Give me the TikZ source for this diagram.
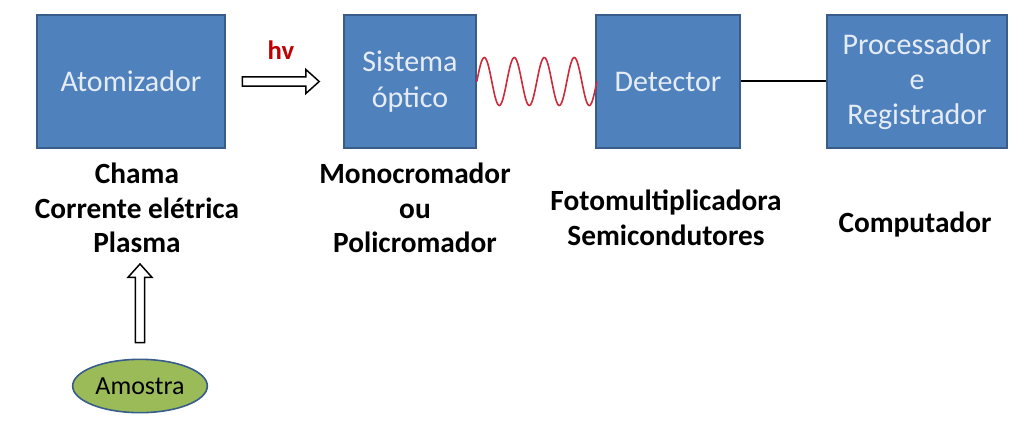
\documentclass[tikz,border=0pt]{standalone}
\usepackage{fontspec}
\setmainfont{Carlito}
\usetikzlibrary{shapes.geometric,calc}
\definecolor{blockfill}{HTML}{4F81BD}
\definecolor{blockedge}{HTML}{385D8A}
\definecolor{blocktext}{HTML}{E6ECF6}
\definecolor{hvred}{HTML}{C00000}
\definecolor{wavered}{HTML}{CC2B3B}
\definecolor{samplegreen}{HTML}{9BBB59}

\begin{document}
\begin{tikzpicture}[x=0.75pt, y=-0.75pt,
    block/.style={draw=blockedge, fill=blockfill, line width=1.2pt, text=blocktext,
      font=\fontsize{22.5}{26.5}\selectfont, align=center, minimum height=100pt, inner sep=0pt},
    caption/.style={font=\bfseries\fontsize{22}{26}\selectfont, align=center, inner sep=0pt},
    hollow/.style={draw=black, fill=white, line width=1.1pt, to path={
      let \p1=(\tikztostart), \p2=(\tikztotarget),
          \n1={atan2(\y2-\y1,\x2-\x1)}, \n2={veclen(\x2-\x1,\y2-\y1)} in
      ([shift={(\p1)}, rotate=\n1] 0pt,3.5pt)
      -- ([shift={(\p1)}, rotate=\n1] {\n2*1pt-10pt},3.5pt)
      -- ([shift={(\p1)}, rotate=\n1] {\n2*1pt-10pt},9pt)
      -- ([shift={(\p1)}, rotate=\n1] {\n2*1pt},0pt)
      -- ([shift={(\p1)}, rotate=\n1] {\n2*1pt-10pt},-9pt)
      -- ([shift={(\p1)}, rotate=\n1] {\n2*1pt-10pt},-3.5pt)
      -- ([shift={(\p1)}, rotate=\n1] 0pt,-3.5pt) -- cycle}},
    wave/.style={draw=wavered, line width=1.2pt}]
    \useasboundingbox (0,0) rectangle (1024,428);
    % blocks
    \node[block, minimum width=141pt] at (131,81.5) (atom) {Atomizador};
    \node[block, minimum width=99pt] at (410,81.5) (sist) {Sistema\\óptico};
    \node[block, minimum width=108pt] at (668,81.5) (det) {Detector};
    \node[block, minimum width=135pt] at (917,81.5) (proc) {Processador\\e\\Registrador};
    % captions
    \node[caption] at (137,208) (atomcap) {Chama\\Corrente elétrica\\Plasma};
    \node[caption] at (415,208) (sistcap) {Monocromador\\ou\\Policromador};
    \node[caption] at (666,218) (detcap) {Fotomultiplicadora\\Semicondutores};
    \node[caption] at (915,225) (proccap) {Computador};
    \node[font=\bfseries\fontsize{20}{24}\selectfont, text=hvred] at (281,50) (hv) {hv};
    % sample
    \node[ellipse, draw=blockedge, fill=samplegreen, line width=1.2pt, minimum width=101pt,
      minimum height=40pt, inner sep=0pt, font=\fontsize{19.5}{22}\selectfont] at (140,386) (amostra) {Amostra};
    % connectors
    \coordinate (hvtail) at ([xshift=12.5pt]atom.east);
    \coordinate (hvtip) at ([xshift=-18pt]sist.west);
    \coordinate (amtail) at ([yshift=12pt]amostra.north);
    \coordinate (amtip) at ([yshift=-8pt]amostra.north |- atomcap.south);
    \draw[hollow] (hvtail) to (hvtip);
    \draw[hollow] (amtail) to (amtip);
    \draw[wave, shift={(sist.east)}] plot[domain=0:120, samples=160, smooth] (\x, {-24*sin(12*\x)});
    \draw[line width=1.5pt] (det) -- (proc);
\end{tikzpicture}
\end{document}
